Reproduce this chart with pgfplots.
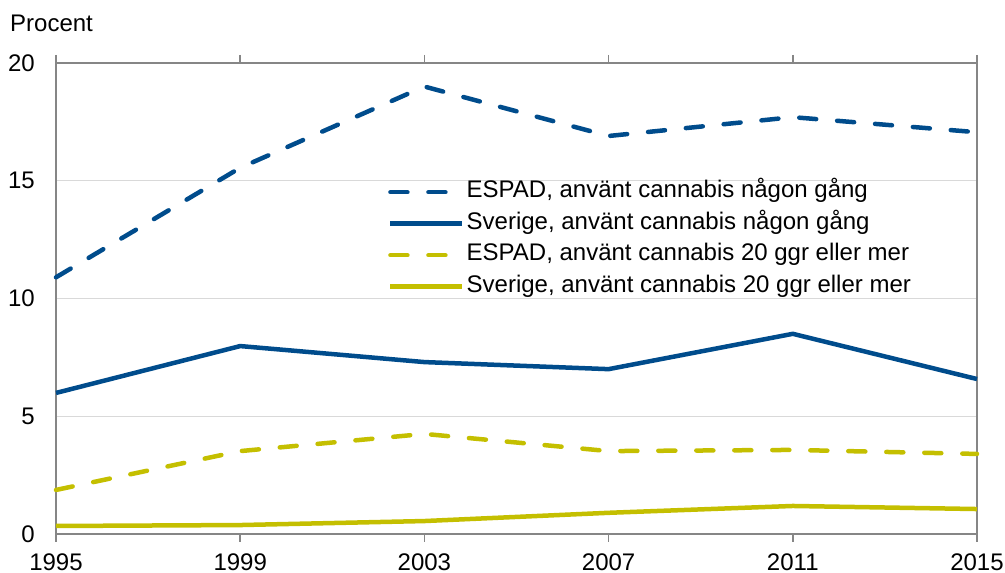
\documentclass[border=0pt]{standalone}
\usepackage{fontspec}
\setmainfont{Liberation Sans}
\usepackage{pgfplots}
\pgfplotsset{compat=1.18}
\definecolor{cblue}{RGB}{0,76,140}
\definecolor{cyel}{RGB}{196,191,0}
\definecolor{axgray}{RGB}{134,134,134}
\definecolor{grgray}{RGB}{217,217,217}
\begin{document}
\fontsize{24}{28}\selectfont
\begin{tikzpicture}
\begin{axis}[
  at={(0,0)}, anchor=south west,
  scale only axis, width=921pt, height=471pt,
  xmin=1995, xmax=2015, ymin=0, ymax=20,
  xtick={1995,1999,2003,2007,2011,2015},
  ytick={0,5,10,15,20},
  xticklabels={1995,1999,2003,2007,2011,2015},
  ymajorgrids, grid style={grgray, line width=1pt},
  axis line style={axgray, line width=1.8pt},
  ytick style={draw=none},
  xtick style={axgray, line width=1.5pt},
  xtick align=outside, major tick length=8pt,
  /pgf/number format/assume math mode=true,
  ticklabel style={font=\fontsize{24}{28}\selectfont},
  xticklabel style={inner sep=0pt, yshift=-12pt},
  yticklabel style={inner sep=0pt, xshift=-21pt},
  legend cell align=left,
  legend image code/.code={\draw[#1] (0pt,0pt) -- (72pt,0pt);},
  legend style={draw=none, fill=none, inner sep=0pt, row sep=8pt,
    column sep=2pt,
    at={(332pt,294.5pt)}, anchor=west,
    font=\fontsize{24}{28}\selectfont,
    nodes={inner sep=0pt, text height=17.5pt, text depth=6pt}},
  clip=false,
]
\addplot[cblue, line width=4.5pt, line cap=round, dash pattern=on 17pt off 21pt] coordinates {
 (1995,10.9) (1999,15.55) (2003,19.0) (2007,16.9) (2011,17.7) (2015,17.06)};
\addlegendentry{ESPAD, använt cannabis någon gång}
\addplot[cblue, line width=4.5pt, line join=round] coordinates {
 (1995,5.99) (1999,7.98) (2003,7.3) (2007,7.0) (2011,8.5) (2015,6.58)};
\addlegendentry{Sverige, använt cannabis någon gång}
\addplot[cyel, line width=4.5pt, line cap=round, dash pattern=on 17pt off 21pt] coordinates {
 (1995,1.87) (1999,3.52) (2003,4.25) (2007,3.52) (2011,3.57) (2015,3.4)};
\addlegendentry{ESPAD, använt cannabis 20 ggr eller mer}
\addplot[cyel, line width=4.5pt, line join=round] coordinates {
 (1995,0.34) (1999,0.38) (2003,0.55) (2007,0.9) (2011,1.19) (2015,1.06)};
\addlegendentry{Sverige, använt cannabis 20 ggr eller mer}
\end{axis}
\node[anchor=base west, inner sep=0pt, font=\fontsize{24}{28}\selectfont] at (-46pt,502pt) {Procent};
\pgfresetboundingbox
\useasboundingbox (-56pt,-39pt) rectangle (949pt,534pt);
\end{tikzpicture}
\end{document}
